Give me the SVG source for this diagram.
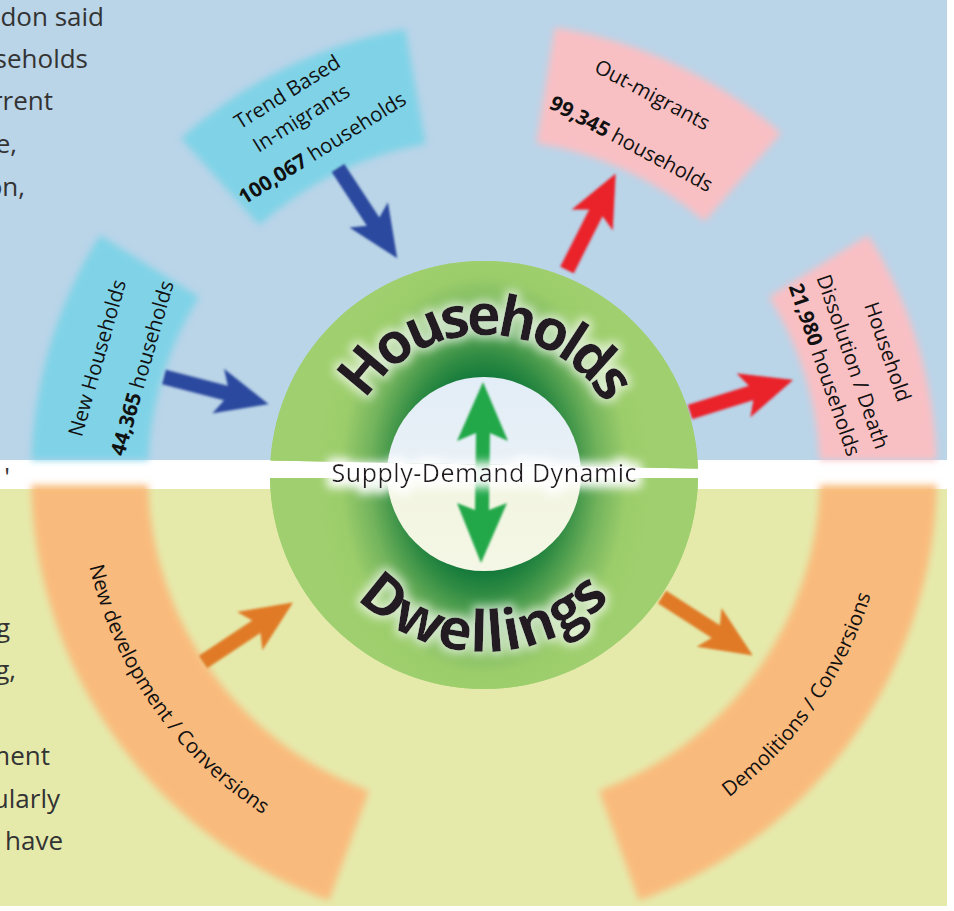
<svg xmlns="http://www.w3.org/2000/svg" width="954" height="911" viewBox="0 0 954 911">
<style>
.body{font-family:"Open Sans","Liberation Sans",sans-serif;font-size:26px;fill:#333333;}
.lbl{font-family:"Open Sans","Liberation Sans",sans-serif;font-size:20.5px;fill:#111111;}
.big{font-family:"Open Sans","Liberation Sans",sans-serif;font-size:57px;font-weight:700;fill:#231f20;}
.mid{font-family:"Open Sans","Liberation Sans",sans-serif;font-size:25px;fill:#231f20;}
.cyan{fill:#80d3e7}
.pink{fill:#f9c0c4}
.orange{fill:#f9bb7d}
.blue{fill:#2c4a9f}
.red{fill:#ea232a}
.orangeA{fill:#e07a28}
.b{font-weight:700}
</style>
<defs>
<clipPath id="clipTop"><rect x="0" y="0" width="954" height="460"/></clipPath>
<clipPath id="clipBot"><rect x="0" y="485" width="954" height="426"/></clipPath>
<clipPath id="clipHub"><polygon points="250,250 720,250 720,469 250,460"/><rect x="250" y="478" width="470" height="240"/></clipPath>
<filter id="soft" x="-10%" y="-10%" width="120%" height="120%"><feGaussianBlur stdDeviation="3.5"/></filter>
<filter id="softA" x="-10%" y="-20%" width="120%" height="140%"><feGaussianBlur stdDeviation="1.3"/></filter>
<filter id="glow" x="-20%" y="-30%" width="140%" height="160%">
<feMorphology in="SourceAlpha" operator="dilate" radius="3" result="d"/>
<feGaussianBlur in="d" stdDeviation="5" result="bl"/>
<feFlood flood-color="#ffffff" flood-opacity="0.65"/>
<feComposite in2="bl" operator="in" result="g"/>
<feMerge><feMergeNode in="g"/><feMergeNode in="SourceGraphic"/></feMerge>
</filter>
<filter id="glow2" x="-20%" y="-80%" width="140%" height="260%">
<feMorphology in="SourceAlpha" operator="dilate" radius="6" result="d"/>
<feGaussianBlur in="d" stdDeviation="5" result="bl"/>
<feFlood flood-color="#ffffff" flood-opacity="0.95"/>
<feComposite in2="bl" operator="in" result="g"/>
<feMerge><feMergeNode in="g"/><feMergeNode in="SourceGraphic"/></feMerge>
</filter>
<radialGradient id="ringG" gradientUnits="userSpaceOnUse" cx="484" cy="475" r="235" gradientTransform="translate(484 475) scale(0.72 1) translate(-484 -475)">
<stop offset="0.40" stop-color="#10773a"/>
<stop offset="0.50" stop-color="#2d8a42"/>
<stop offset="0.68" stop-color="#72b35c"/>
<stop offset="0.85" stop-color="#9ccd6b"/>
<stop offset="1" stop-color="#9fcf6e"/>
</radialGradient>
<linearGradient id="innerG" x1="0" y1="0" x2="0" y2="1">
<stop offset="0" stop-color="#e3edf7"/>
<stop offset="0.48" stop-color="#e9f1f6"/>
<stop offset="0.52" stop-color="#f2f5e1"/>
<stop offset="1" stop-color="#f5f7e6"/>
</linearGradient>
<path id="arr" d="M0,-7.5 L64,-7.5 L56,-23 L108,0 L56,23 L64,7.5 L0,7.5 Z"/>
<path id="hPath" d="M344,475 A140,140 0 0 1 624,475"/>
<path id="dPath" d="M307,475 A177,177 0 0 0 661,475"/>
<path id="ndPath" d="M79,475 A405,405 0 0 0 345.48,855.58"/>
<path id="dcPath" d="M622.52,855.58 A405,405 0 0 0 889,475"/>
</defs>

<g id="background">
<rect x="0" y="0" width="954" height="911" fill="#ffffff"/>
<rect x="0" y="0" width="947" height="460" fill="#bad4e8"/>
<rect x="0" y="489" width="947" height="417" fill="#e5eaab"/>
</g>

<g id="body-text" class="body" text-anchor="end">
<text x="104" y="26">don said</text>
<text x="88" y="68">seholds</text>
<text x="53" y="110">rrent</text>
<text x="17" y="153">e,</text>
<text x="25" y="196">on,</text>
<text x="10" y="486">'</text>
<text x="10" y="637">g</text>
<text x="16" y="679">g,</text>
<text x="50" y="765">ment</text>
<text x="60" y="808">ularly</text>
<text x="63" y="850">have</text>
</g>

<g id="node-new-households">
<g filter="url(#soft)"><path class="cyan" clip-path="url(#clipTop)" d="M31.28,490.81 A453,453 0 0 1 99.83,234.95 L199.06,296.95 A336,336 0 0 0 148.21,486.73 Z"/></g>
<text class="lbl" text-anchor="middle" transform="translate(104,360) rotate(-74)">New Households</text>
<text class="lbl" text-anchor="middle" transform="translate(149,370) rotate(-74)"><tspan class="b">44,365</tspan> households</text>
</g>

<g id="node-in-migrants">
<g filter="url(#soft)"><path class="cyan" d="M180.88,138.36 A453,453 0 0 1 405.34,28.88 L425.65,144.10 A336,336 0 0 0 259.17,225.30 Z"/></g>
<text class="lbl" text-anchor="middle" transform="translate(291,98) rotate(-32)">Trend Based</text>
<text class="lbl" text-anchor="middle" transform="translate(305,124) rotate(-32)">In-migrants</text>
<text class="lbl" text-anchor="middle" transform="translate(326,154) rotate(-32)"><tspan class="b">100,067</tspan> households</text>
</g>

<g id="node-out-migrants">
<g filter="url(#soft)"><path class="pink" d="M554.86,27.58 A453,453 0 0 1 781.20,133.12 L704.44,221.42 A336,336 0 0 0 536.56,143.14 Z"/></g>
<text class="lbl" text-anchor="middle" transform="translate(649,101) rotate(28)">Out-migrants</text>
<text class="lbl" text-anchor="middle" transform="translate(628,150) rotate(28)"><tspan class="b">99,345</tspan> households</text>
</g>

<g id="node-dissolution">
<g filter="url(#soft)"><path class="pink" clip-path="url(#clipTop)" d="M868.17,234.95 A453,453 0 0 1 936.72,490.81 L819.79,486.73 A336,336 0 0 0 768.94,296.95 Z"/></g>
<text class="lbl" text-anchor="middle" transform="translate(881,354) rotate(71)">Household</text>
<text class="lbl" text-anchor="middle" transform="translate(846,364) rotate(71)">Dissolution / Death</text>
<text class="lbl" text-anchor="middle" transform="translate(818,372) rotate(71)"><tspan class="b">21,980</tspan> households</text>
</g>

<g id="node-demolitions">
<g filter="url(#soft)"><path class="orange" clip-path="url(#clipBot)" d="M936.72,459.19 A453,453 0 0 1 638.94,900.68 L598.92,790.74 A336,336 0 0 0 819.79,463.27 Z"/></g>
<text class="lbl"><textPath href="#dcPath" startOffset="50%" text-anchor="middle">Demolitions / Conversions</textPath></text>
</g>

<g id="node-new-development">
<g filter="url(#soft)"><path class="orange" clip-path="url(#clipBot)" d="M329.06,900.68 A453,453 0 0 1 31.28,459.19 L148.21,463.27 A336,336 0 0 0 369.08,790.74 Z"/></g>
<text class="lbl"><textPath href="#ndPath" startOffset="50%" text-anchor="middle">New development / Conversions</textPath></text>
</g>

<g id="connectors" filter="url(#softA)">
<use href="#arr" class="blue" transform="translate(338,168) rotate(56.75)"/>
<use href="#arr" class="blue" transform="translate(164,377) rotate(14.55)"/>
<use href="#arr" class="red" transform="translate(567,270) rotate(-63.2)"/>
<use href="#arr" class="red" transform="translate(690,412) rotate(-17.3)"/>
<use href="#arr" class="orangeA" transform="translate(203,662) rotate(-33.5)"/>
<use href="#arr" class="orangeA" transform="translate(662,597) rotate(32.8)"/>
</g>

<g id="node-hub">
<g clip-path="url(#clipHub)">
<circle cx="484" cy="475" r="214" fill="#9fcf6e"/>
<circle cx="484" cy="475" r="214" fill="url(#ringG)"/>
<circle cx="484" cy="474" r="97" fill="url(#innerG)"/>
</g>
<polygon filter="url(#softA)" fill="#24a84a" points="483,382 508,441 490,433 489,510 507,503 481,563 457,503 475,510 476,433 457,441"/>
<text class="big" letter-spacing="-5" filter="url(#glow)"><textPath href="#hPath" startOffset="50%" text-anchor="middle">Households</textPath></text>
<text class="big" letter-spacing="1" filter="url(#glow)"><textPath href="#dPath" startOffset="50%" text-anchor="middle">Dwellings</textPath></text>
<text class="mid" x="484" y="482" text-anchor="middle" textLength="305" filter="url(#glow2)">Supply-Demand Dynamic</text>
</g>
</svg>
